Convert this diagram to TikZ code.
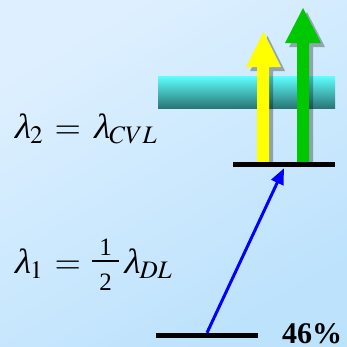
\documentclass[tikz,border=0pt]{standalone}
\usepackage{amsmath}
\usepackage{mathptmx}
\usepackage[no-math]{fontspec}
\setmainfont{Liberation Serif}
\newfontfamily\slfont[FakeSlant=0.22]{Liberation Serif}
\usetikzlibrary{arrows.meta,shadows}
\definecolor{bgtl}{RGB}{222,240,255}
\definecolor{bgbr}{RGB}{188,226,252}
\definecolor{bartop}{RGB}{95,255,255}
\definecolor{barbot}{RGB}{42,118,118}
\definecolor{ylw}{RGB}{255,255,0}
\definecolor{grn}{RGB}{0,200,0}
\newcommand{\lam}{\text{\fontsize{35}{35}\slfont λ}}
\newcommand{\half}{\mathord{\vcenter{\hbox{\fontsize{25}{25}\selectfont
  \vbox{\offinterlineskip\halign{\hfil\kern7pt##\kern7pt\hfil\cr
  1\cr\noalign{\kern5pt\hrule height 1.3pt\kern12pt}2\cr}}}}}}
\begin{document}
\begin{tikzpicture}[x=1pt,y=-1pt, every node/.style={font=\fontsize{34}{40}\selectfont},
  lvl/.style={fill=black,minimum width=102pt,minimum height=5pt,inner sep=0pt},
  eq/.style={anchor=base west,inner sep=0pt},
  shd/.style={drop shadow={shadow xshift=4pt,shadow yshift=-4pt,opacity=0.3,fill=black}}]
\useasboundingbox (0,0) rectangle (347,346);
% background
\shade[top color=bgtl,bottom color=bgbr,shading angle=30] (0,0) rectangle (347,346);
% band
\shade[top color=bartop,bottom color=barbot] (158,76) rectangle (335,108);
% levels
\node[lvl] (up) at (284,164.5) {};
\node[lvl] (lo) at (207,335.5) {};
% upward arrows
\fill[ylw,shd] (257,162) -- (257,67) -- (246,67) -- (263.5,32) -- (281,67) -- (269,67) -- (269,162) -- cycle;
\fill[grn,shd] (297,162) -- (297,43) -- (285,43) -- (303,8) -- (321,43) -- (309,43) -- (309,162) -- cycle;
\node[lvl] at (up) {};
% pump
\draw[blue,line width=3pt,-{Triangle[length=16pt,width=13pt]}] (lo.north) -- ([yshift=-1pt]up.south);
% labels
\node[eq] (l2) at (13,138) {$\lam_2\,=\,\lam_{CVL}$};
\node[eq] (l1) at (13,273) {$\lam_1\,=\,\half\,\lam_{DL}$};
\node[eq,font=\fontsize{30}{36}\selectfont\bfseries] (pc) at (282,343.5) {46\%};
\end{tikzpicture}
\end{document}
